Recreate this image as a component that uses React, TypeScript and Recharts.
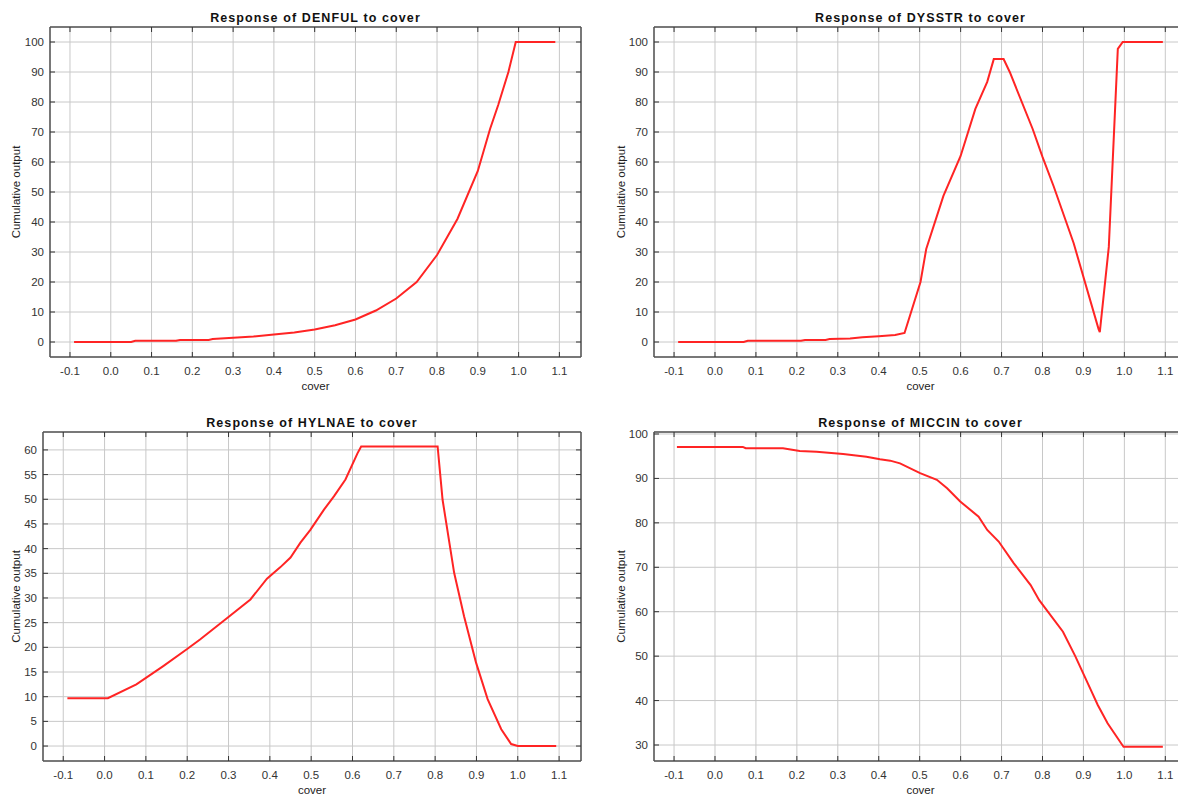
import React from 'react';
import { LineChart, Line, XAxis, YAxis, CartesianGrid } from 'recharts';

const xTicks = [-0.1, 0, 0.1, 0.2, 0.3, 0.4, 0.5, 0.6, 0.7, 0.8, 0.9, 1.0, 1.1];

const denfulCover = [-0.09, 0.05, 0.06, 0.16, 0.17, 0.24, 0.25, 0.3, 0.35, 0.4, 0.45, 0.5, 0.55, 0.6, 0.65, 0.7, 0.75, 0.8, 0.85, 0.9, 0.93, 0.95, 0.975, 0.993, 1.09];
const denfulOutput = [0, 0, 0.4, 0.4, 0.7, 0.7, 1.0, 1.4, 1.8, 2.5, 3.2, 4.2, 5.6, 7.5, 10.5, 14.5, 20, 29, 41, 57, 71, 79, 90, 100, 100];

const dysstrCover = [-0.09, 0.07, 0.08, 0.21, 0.22, 0.27, 0.28, 0.33, 0.36, 0.4, 0.44, 0.463, 0.502, 0.516, 0.558, 0.6, 0.636, 0.665, 0.681, 0.705, 0.72, 0.776, 0.8, 0.827, 0.876, 0.937, 0.94, 0.962, 0.984, 0.996, 1.094];
const dysstrOutput = [0, 0, 0.4, 0.4, 0.7, 0.7, 1.0, 1.2, 1.6, 1.9, 2.3, 3.0, 20, 31, 48.7, 62, 77.7, 86.7, 94.3, 94.3, 90, 71, 61.7, 52, 33, 4.3, 3.3, 31.7, 97.7, 100, 100];

const hylnaeCover = [-0.09, 0.008, 0.077, 0.142, 0.199, 0.231, 0.296, 0.353, 0.393, 0.425, 0.45, 0.474, 0.498, 0.531, 0.555, 0.583, 0.612, 0.621, 0.806, 0.818, 0.846, 0.87, 0.899, 0.927, 0.96, 0.984, 1.0, 1.093];
const hylnaeOutput = [9.7, 9.7, 12.5, 16.2, 19.6, 21.6, 25.9, 29.7, 33.9, 36.2, 38.2, 41.2, 43.8, 47.9, 50.6, 54, 59.3, 60.7, 60.7, 49.9, 35.1, 26.3, 16.9, 9.5, 3.4, 0.4, 0, 0];

const miccinCover = [-0.093, 0.068, 0.075, 0.166, 0.207, 0.248, 0.313, 0.37, 0.403, 0.428, 0.452, 0.501, 0.542, 0.567, 0.599, 0.644, 0.665, 0.693, 0.73, 0.771, 0.792, 0.85, 0.88, 0.9, 0.92, 0.935, 0.959, 0.992, 0.998, 1.094];
const miccinOutput = [97.1, 97.1, 96.8, 96.8, 96.2, 96.0, 95.5, 94.9, 94.3, 94.0, 93.4, 91.2, 89.7, 87.8, 84.8, 81.4, 78.4, 75.8, 70.9, 66.0, 62.6, 55.5, 50, 46, 42, 39.0, 34.9, 30.4, 29.6, 29.6];

const ticks0to100 = [0, 10, 20, 30, 40, 50, 60, 70, 80, 90, 100];
const ticks0to60 = [0, 5, 10, 15, 20, 25, 30, 35, 40, 45, 50, 55, 60];
const ticks30to100 = [30, 40, 50, 60, 70, 80, 90, 100];

const font = '"Liberation Sans", Arial, sans-serif';
const frame = '#555';

const BottomTick = (props: any) => {
  const { x, y, payload } = props;
  return (
    <g>
      <line x1={x} y1={y} x2={x} y2={y - 5} stroke="#333" />
      <text x={x} y={y + 18} textAnchor="middle" fontSize={11.5} fill="#333" fontFamily={font}>
        {Number(payload.value).toFixed(1)}
      </text>
    </g>
  );
};

const LeftTick = (props: any) => {
  const { x, y, payload } = props;
  return (
    <g>
      <line x1={x} y1={y} x2={x + 5} y2={y} stroke="#333" />
      <text x={x - 6} y={y + 4} textAnchor="end" fontSize={11.5} fill="#333" fontFamily={font}>
        {payload.value}
      </text>
    </g>
  );
};

const TopTick = (props: any) => <line x1={props.x} y1={props.y} x2={props.x} y2={props.y + 5} stroke="#333" />;
const RightTick = (props: any) => <line x1={props.x} y1={props.y} x2={props.x - 5} y2={props.y} stroke="#333" />;

interface PanelProps {
  name: string;
  cover: number[];
  output: number[];
  yTicks: number[];
  yDomain: [number, number];
  left: number;
  top: number;
  width: number;
  marginTop: number;
  marginRight: number;
  yAxisWidth: number;
  xAxisHeight: number;
  yLabelX: number;
}

const Panel = (p: PanelProps) => {
  const data = p.cover.map((c, i) => ({ x: c, y: p.output[i] }));
  const xDomain: [number, number] = [-0.149, 1.153];
  return (
    <div style={{ position: 'absolute', left: p.left, top: p.top }}>
      <LineChart
        width={p.width}
        height={398}
        data={data}
        margin={{ top: p.marginTop - 1, right: p.marginRight - 1, left: 0, bottom: 0 }}
      >
        <CartesianGrid stroke="#c8c8c8" />
        <XAxis
          dataKey="x"
          type="number"
          domain={xDomain}
          allowDataOverflow
          ticks={xTicks}
          interval={0}
          height={p.xAxisHeight}
          tickSize={0}
          tickMargin={0}
          tick={BottomTick}
          axisLine={{ stroke: frame, strokeWidth: 1.5 }}
          label={(lp: any) => (
            <text
              x={lp.viewBox.x + lp.viewBox.width / 2}
              y={lp.viewBox.y + 33}
              textAnchor="middle"
              fontSize={11.5}
              fill="#222"
              fontFamily={font}
            >
              cover
            </text>
          )}
        />
        <XAxis
          xAxisId="top"
          orientation="top"
          type="number"
          dataKey="x"
          domain={xDomain}
          allowDataOverflow
          ticks={xTicks}
          interval={0}
          height={1}
          tickSize={0}
          tickMargin={0}
          tick={TopTick}
          axisLine={{ stroke: frame, strokeWidth: 1.5 }}
          label={(lp: any) => (
            <text
              x={lp.viewBox.x + lp.viewBox.width / 2}
              y={lp.viewBox.y - 4}
              textAnchor="middle"
              fontSize={12.5}
              fontWeight="bold"
              letterSpacing={1.1}
              fill="#111"
              fontFamily={font}
            >
              {`Response of ${p.name} to cover`}
            </text>
          )}
        />
        <YAxis
          type="number"
          domain={p.yDomain}
          allowDataOverflow
          ticks={p.yTicks}
          interval={0}
          width={p.yAxisWidth}
          tickSize={0}
          tickMargin={0}
          tick={LeftTick}
          axisLine={{ stroke: frame, strokeWidth: 1.5 }}
          label={(lp: any) => {
            const cx = lp.viewBox.x + p.yLabelX;
            const cy = lp.viewBox.y + lp.viewBox.height / 2;
            return (
              <text
                x={cx}
                y={cy}
                transform={`rotate(-90 ${cx} ${cy})`}
                textAnchor="middle"
                dominantBaseline="central"
                fontSize={11.5}
                fill="#222"
                fontFamily={font}
              >
                Cumulative output
              </text>
            );
          }}
        />
        <YAxis
          yAxisId="right"
          orientation="right"
          type="number"
          domain={p.yDomain}
          allowDataOverflow
          ticks={p.yTicks}
          interval={0}
          width={1}
          tickSize={0}
          tickMargin={0}
          tick={RightTick}
          axisLine={{ stroke: frame, strokeWidth: 1.5 }}
        />
        {/* hidden copy so the top/right frame axes have a series */}
        <Line
          xAxisId="top"
          yAxisId="right"
          type="linear"
          dataKey="y"
          stroke="none"
          dot={false}
          activeDot={false}
          legendType="none"
          isAnimationActive={false}
        />
        <Line
          type="linear"
          dataKey="y"
          stroke="#ff2424"
          strokeWidth={2}
          dot={false}
          isAnimationActive={false}
        />
      </LineChart>
    </div>
  );
};

export default function App() {
  return (
    <div
      style={{
        position: 'absolute',
        left: 0,
        top: 0,
        width: 1178,
        height: 796,
        overflow: 'hidden',
        background: '#fff',
      }}
    >
      <Panel name="DENFUL" cover={denfulCover} output={denfulOutput} yTicks={ticks0to100} yDomain={[-5, 105]}
        left={0} top={0} width={590} marginTop={27} marginRight={9} yAxisWidth={50} xAxisHeight={41} yLabelX={16} />
      <Panel name="DYSSTR" cover={dysstrCover} output={dysstrOutput} yTicks={ticks0to100} yDomain={[-5, 105]}
        left={590} top={0} width={610} marginTop={27} marginRight={13} yAxisWidth={64} xAxisHeight={41} yLabelX={31} />
      <Panel name="HYLNAE" cover={hylnaeCover} output={hylnaeOutput} yTicks={ticks0to60} yDomain={[-3.03, 63.63]}
        left={0} top={398} width={590} marginTop={34} marginRight={9} yAxisWidth={43} xAxisHeight={35} yLabelX={16} />
      <Panel name="MICCIN" cover={miccinCover} output={miccinOutput} yTicks={ticks30to100} yDomain={[26.4, 100.45]}
        left={590} top={398} width={610} marginTop={34} marginRight={13} yAxisWidth={64} xAxisHeight={35} yLabelX={31} />
    </div>
  );
}
